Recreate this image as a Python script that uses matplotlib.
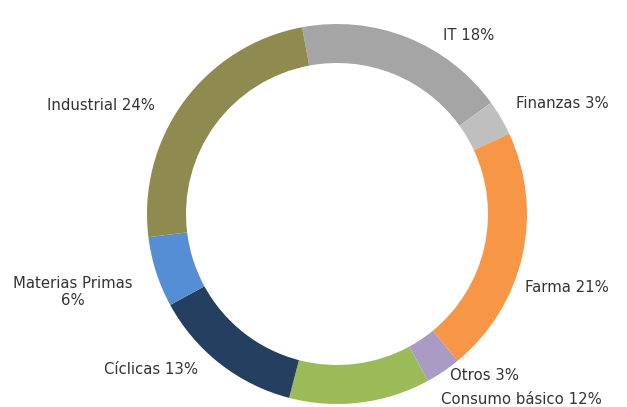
import matplotlib.pyplot as plt

sectors = ['IT', 'Finanzas', 'Farma', 'Otros', 'Consumo básico',
           'Cíclicas', 'Materias Primas', 'Industrial']
weights = [18, 3, 21, 3, 12, 13, 6, 24]
colors = ['#A5A5A5', '#BFBFBF', '#F79646', '#A99BC3', '#9BBB59',
          '#243F60', '#558ED5', '#8F8A4F']

# label anchor positions in pixel space (x, y from top)
label_pos = [(469, 36), (562, 104), (567, 287), (484, 376), (521, 400),
             (151, 369), (73, 292), (101, 106)]

W, H = 627, 407
fig = plt.figure(figsize=(W / 100, H / 100), dpi=100)
ax = fig.add_axes([0, 0, 1, 1])

cx, cy, r = 337, H - 214, 190
ax.pie(weights, colors=colors, startangle=100.6, counterclock=False,
       center=(cx, cy), radius=r, frame=True,
       wedgeprops=dict(width=39, linewidth=0))
ax.set_xlim(0, W)
ax.set_ylim(0, H)
ax.set_aspect('equal')
ax.axis('off')

for name, w, (x, y) in zip(sectors, weights, label_pos):
    if name == 'Materias Primas':
        txt = f'{name}\n{w}%'
    else:
        txt = f'{name} {w}%'
    ax.text(x, H - y, txt, ha='center', va='center', fontsize=10.7,
            color='#333333', family='DejaVu Sans', linespacing=1.1)

fig.savefig('out.png', dpi=100)
